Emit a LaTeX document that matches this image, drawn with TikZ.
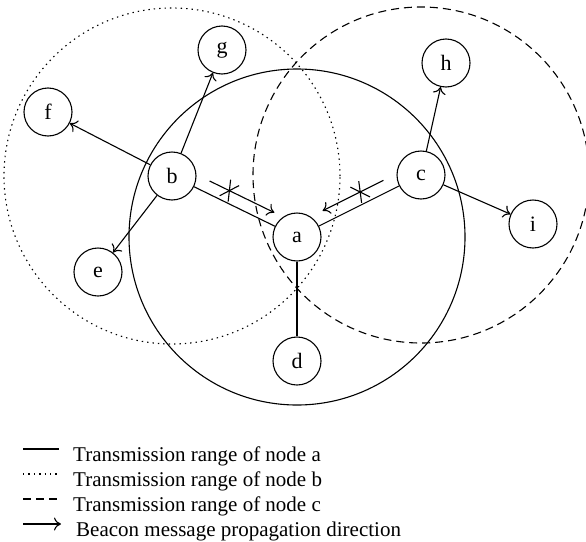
\documentclass[tikz,border=0pt]{standalone}
\usepackage{fontspec}
\setmainfont{Liberation Serif}
\usetikzlibrary{calc,arrows.meta}
\begin{document}
\begin{tikzpicture}[x=1pt,y=-1pt,
  nd/.style={circle,draw,line width=1.1pt,minimum size=48pt,inner sep=0pt,font=\fontsize{22}{22}\selectfont},
  ln/.style={line width=1.1pt},
  tip/.style={ln,-{To[length=7pt,width=13pt]}},
  dotrange/.style={ln,dash pattern=on 1.4pt off 4pt},
  dashrange/.style={ln,dash pattern=on 8pt off 5pt},
  lg/.style={anchor=base west,inner sep=0pt,font=\fontsize{21}{21}\selectfont}
]
\useasboundingbox (0,0) rectangle (586,541);
% nodes
\node[nd] (a) at (297,237) {a};
\node[nd] (b) at (172,176) {b};
\node[nd] (c) at (421,175) {c};
\node[nd] (d) at (297,361) {d};
\node[nd] (e) at (98,272) {e};
\node[nd] (f) at (48,112) {f};
\node[nd] (g) at (222,50) {g};
\node[nd] (h) at (446,63) {h};
\node[nd] (i) at (533,224) {i};
% transmission ranges
\draw[ln] (a.center) circle (168pt);
\draw[dotrange] (b.center) circle (168pt);
\draw[dashrange] (c.center) circle (168pt);
% links
\draw[ln] (b) -- (a);
\draw[ln] (c) -- (a);
\draw[ln] (a) -- (d);
\draw[tip] (b) -- (f);
\draw[tip] (b) -- (g);
\draw[tip] (b) -- (e);
\draw[tip] (c) -- (h);
\draw[tip] (c) -- (i);
% beacon arrows with crosses
\coordinate (ba1) at ($(b.center)!36pt!(a.center)!12pt!90:(a.center)$);
\coordinate (ba2) at ($(b.center)!108pt!(a.center)!12pt!90:(a.center)$);
\coordinate (bx) at ($(b.center)!58pt!(a.center)!12pt!90:(a.center)$);
\draw[tip] (ba1) -- (ba2);
\coordinate (bx1) at ($(bx)!11pt!62:(a.center)$);
\coordinate (bx2) at ($(bx)!-11pt!62:(a.center)$);
\coordinate (bx3) at ($(bx)!11pt!-62:(a.center)$);
\coordinate (bx4) at ($(bx)!-11pt!-62:(a.center)$);
\draw[ln] (bx1) -- (bx2);
\draw[ln] (bx3) -- (bx4);
\coordinate (ca1) at ($(c.center)!36pt!(a.center)!12pt!-90:(a.center)$);
\coordinate (ca2) at ($(c.center)!104pt!(a.center)!12pt!-90:(a.center)$);
\coordinate (cx) at ($(c.center)!62pt!(a.center)!12pt!-90:(a.center)$);
\draw[tip] (ca1) -- (ca2);
\coordinate (cx1) at ($(cx)!11pt!62:(a.center)$);
\coordinate (cx2) at ($(cx)!-11pt!62:(a.center)$);
\coordinate (cx3) at ($(cx)!11pt!-62:(a.center)$);
\coordinate (cx4) at ($(cx)!-11pt!-62:(a.center)$);
\draw[ln] (cx1) -- (cx2);
\draw[ln] (cx3) -- (cx4);
% legend
\draw[ln] (23,449) -- (59,449);
\draw[ln,dash pattern=on 1.4pt off 4pt] (23,474) -- (58,474);
\draw[ln,dash pattern=on 8pt off 5pt] (23,499) -- (59,499);
\draw[tip] (23,524) -- (61,524);
\node[lg] (l1) at (73,461) {Transmission range of node a};
\node[lg] (l2) at (73,486) {Transmission range of node b};
\node[lg] (l3) at (73,511) {Transmission range of node c};
\node[lg] (l4) at (76,536) {Beacon message propagation direction};
\end{tikzpicture}
\end{document}
